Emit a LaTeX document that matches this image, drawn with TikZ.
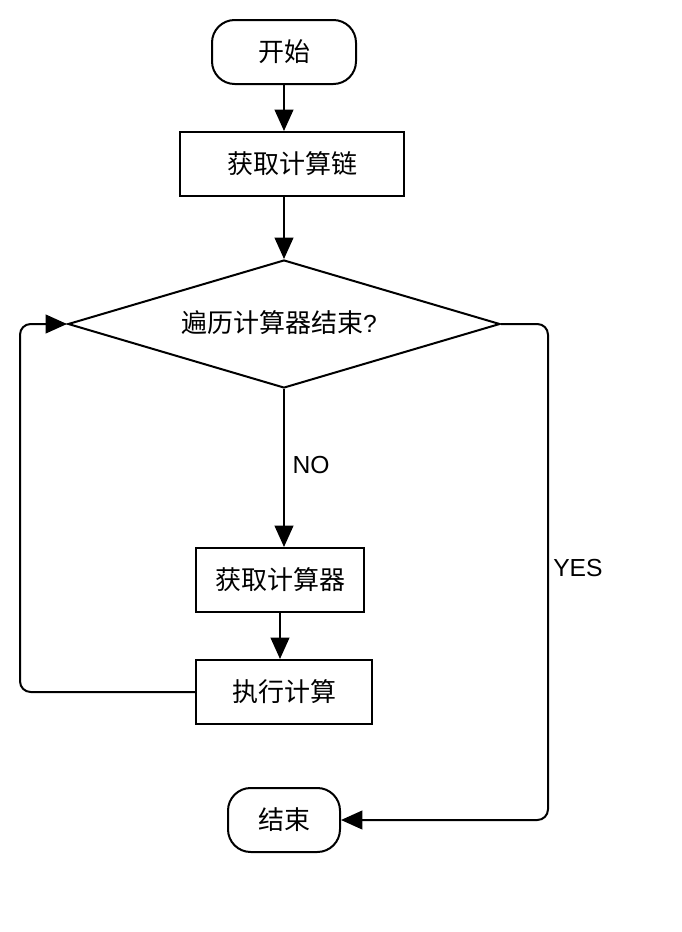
\documentclass[tikz,border=0pt]{standalone}
\usepackage{fontspec}
\setmainfont{Liberation Sans}
\newfontfamily\cjk{Noto Sans CJK SC}
\usetikzlibrary{shapes.geometric}
\usetikzlibrary{arrows.meta}

\tikzset{
  term/.style={draw, line width=1.5pt, rounded corners=17pt, minimum height=48pt, inner sep=0pt, font=\cjk\fontsize{19.5}{23}\selectfont},
  proc/.style={draw, line width=1.5pt, minimum height=48pt, inner sep=0pt, font=\cjk\fontsize{19.5}{23}\selectfont},
  decide/.style={draw, line width=1.5pt, diamond, aspect=3.375, minimum width=324pt, minimum height=96pt, inner sep=0pt},
  flow/.style={line width=1.5pt, -{Triangle[length=16pt,width=14pt]}},
  lbl/.style={inner sep=0.75pt}
}

\begin{document}
\begin{tikzpicture}[x=0.75pt,y=0.75pt,yscale=-1,xscale=1,font=\fontsize{18.5}{22}\selectfont]
%set diagram size 682 x 932
\useasboundingbox (0,0) rectangle (682,932);

%Flowchart: Terminator [id:start]
\node [term, minimum width=108pt] (start) at (284,52) {开始};
%Flowchart: Process [id:chain]
\node [proc, minimum width=168pt] (chain) at (292,164) {获取计算链};
%Flowchart: Decision [id:loopq]
\node [decide] (loopq) at (284,324) {};
%Flowchart: Process [id:getcalc]
\node [proc, minimum width=126pt] (getcalc) at (280,580) {获取计算器};
%Flowchart: Process [id:exec]
\node [proc, minimum width=132pt] (exec) at (284,692) {执行计算};
%Flowchart: Terminator [id:finish]
\node [term, minimum width=84pt] (finish) at (284,820) {结束};

% Text Node
\node [lbl] (asktext) at (279,323) {{\cjk\fontsize{19.5}{23}\selectfont 遍历计算器结束}?};

%Corner points of the two side lines
\coordinate (backleft) at (20,692);
\coordinate (yesright) at (548,820);

%Straight Lines [id:start-chain]
\draw [flow] (start.south) -- (start.south |- chain.north);
%Straight Lines [id:chain-loopq]
\draw [flow] (loopq.north |- chain.south) -- (loopq.north);
%Straight Lines [id:loopq-getcalc]
\draw [flow] (loopq.south) -- (loopq.south |- getcalc.north)
  node [midway, right, lbl, xshift=5pt, yshift=2pt] {NO};
%Straight Lines [id:getcalc-exec]
\draw [flow] (getcalc.south) -- (getcalc.south |- exec.north);
%Straight Lines [id:exec-loopq]
\draw [flow, rounded corners=8pt] (exec.west) -- (backleft) |- (loopq.west);
%Straight Lines [id:loopq-finish]
\draw [flow, rounded corners=8pt] (loopq.east) -| (yesright) -- (finish.east);

% Text Node
\node [lbl, anchor=west] (yes) at (552,568) {YES};

\end{tikzpicture}
\end{document}
